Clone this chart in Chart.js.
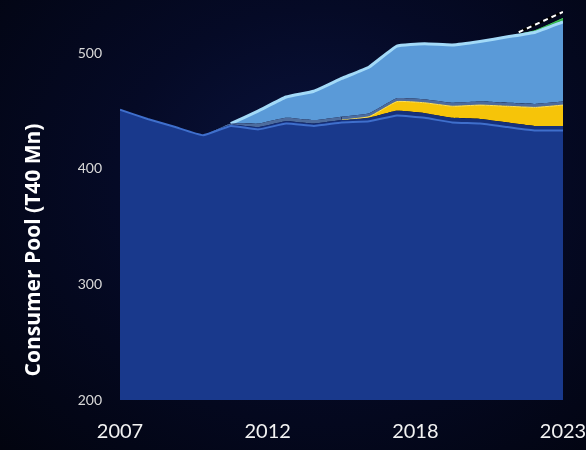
<!DOCTYPE html>
<html>
<head>
<meta charset="utf-8">
<script src="https://cdn.jsdelivr.net/npm/chart.js@4/dist/chart.umd.min.js"></script>
<style>
  html, body { margin: 0; padding: 0; }
  body {
    width: 586px; height: 450px; overflow: hidden;
    background: radial-gradient(ellipse at 55% 40%, #0a1440 0%, #050a26 45%, #02040f 100%);
  }
  canvas { display: block; }
</style>
</head>
<body>
<canvas id="grafico" width="586" height="450"></canvas>
<script>
const anos = [2007, 2008, 2009, 2010, 2011, 2012, 2013, 2014, 2015, 2016, 2017, 2018, 2019, 2020, 2021, 2022, 2023];
const rotulosX = ["2007", "2012", "2018", "2023"];
const rotulosY = [200, 300, 400, 500];

// camadas empilhadas (de baixo para cima)
const base     = [451, 443, 436, 429, 437, 434, 439, 437, 440, 441, 446, 444, 440, 439, 436, 433, 433];
const faixa    = [0, 0, 0, 0, 1, 2, 2, 2, 2, 3, 4, 4, 4, 4, 4, 4, 4];
const amarelo  = [0, 0, 0, 0, 0, 0, 0, 0, 0, 1, 8, 9, 10, 12, 14, 16, 18];
const cinza    = [0, 0, 0, 0, 1, 3, 3, 3, 3, 3, 3, 3, 3, 3, 3, 3, 3];
const azulClaro = [0, 0, 0, 0, 0, 11, 18, 25, 33, 40, 45, 48, 50, 52, 57, 62, 69];
const verde    = [0, 0, 0, 0, 0, 0, 0, 0, 0, 0, 0, 0, 0, 0, 0, 1.5, 3];

// projeção tracejada
const projAnos = [2021.4, 2023];
const projValores = [518, 535.5];

const pontos = arr => arr.map((v, i) => ({ x: anos[i], y: v }));
const projecao = projAnos.map((x, i) => ({ x: x, y: projValores[i] }));

function camada(dados, cor, borda, larguraBorda, fill) {
  return {
    data: pontos(dados),
    backgroundColor: cor,
    borderColor: borda,
    borderWidth: larguraBorda,
    fill: fill,
    pointRadius: 0,
    tension: 0.12,
    stack: "pool",
    segment: {
      borderColor: ctx => (dados[ctx.p0DataIndex] + dados[ctx.p1DataIndex] === 0 && fill !== "start") ? "transparent" : borda
    }
  };
}

// título do eixo Y desenhado na posição da figura
const tituloY = {
  id: "tituloY",
  afterDraw(chart) {
    const c = chart.ctx;
    c.save();
    c.translate(34, 250);
    c.rotate(-Math.PI / 2);
    c.font = "bold 21px 'Open Sans'";
    c.fillStyle = "#ffffff";
    c.textAlign = "center";
    c.textBaseline = "middle";
    c.fillText("Consumer Pool (T40 Mn)", 0, 0);
    c.restore();
  }
};

const ctx = document.getElementById("grafico").getContext("2d");
new Chart(ctx, {
  type: "line",
  data: {
    datasets: [
      // tracejado branco fica por cima (primeiro dataset é desenhado por último)
      {
        data: projecao,
        borderColor: "#ffffff",
        borderWidth: 2,
        borderDash: [5, 4],
        fill: false,
        pointRadius: 0,
        stack: "proj1"
      },
      {
        data: projecao,
        borderColor: "#000000",
        borderWidth: 2.5,
        fill: false,
        pointRadius: 0,
        stack: "proj0"
      },
      camada(base, "#19398c", "#3f6fcc", 2, "start"),
      camada(faixa, "#16317c", "#16317c", 0, "-1"),
      camada(amarelo, "#f6c409", "#ffe25a", 1, "-1"),
      camada(cinza, "#4d6c9e", "#4d6c9e", 0, "-1"),
      camada(azulClaro, "#5a9ad8", "#a3daf8", 3, "-1"),
      camada(verde, "#2fb045", "#45c85a", 1, "-1")
    ]
  },
  options: {
    responsive: false,
    animation: false,
    layout: { padding: { left: 78, right: 0, top: 1, bottom: 6 } },
    plugins: {
      legend: { display: false },
      tooltip: { enabled: false }
    },
    scales: {
      x: {
        type: "linear",
        min: 2007,
        max: 2023,
        grid: { display: false, drawTicks: false },
        border: { display: false },
        afterBuildTicks: axis => {
          axis.ticks = rotulosX.map((t, i) => ({ value: 2007 + i * 16 / (rotulosX.length - 1) }));
        },
        afterFit: s => {
          s.height = 44;
          s.paddingLeft = 0;
          s.paddingRight = 23;
        },
        ticks: {
          padding: 20,
          color: "#f2f2f2",
          font: { family: "Lato", size: 20 },
          maxRotation: 0,
          callback: (v, i) => rotulosX[i]
        }
      },
      y: {
        stacked: true,
        min: 200,
        max: 545,
        grid: { display: false, drawTicks: false },
        border: { display: false },
        afterBuildTicks: axis => {
          axis.ticks = rotulosY.map(v => ({ value: v }));
        },
        afterFit: s => {
          s.width = 42;
          s.paddingTop = 0;
          s.paddingBottom = 0;
        },
        ticks: {
          padding: 18,
          color: "#d9d9d9",
          font: { family: "Lato", size: 14 }
        }
      }
    }
  },
  plugins: [tituloY]
});
</script>
</body>
</html>
